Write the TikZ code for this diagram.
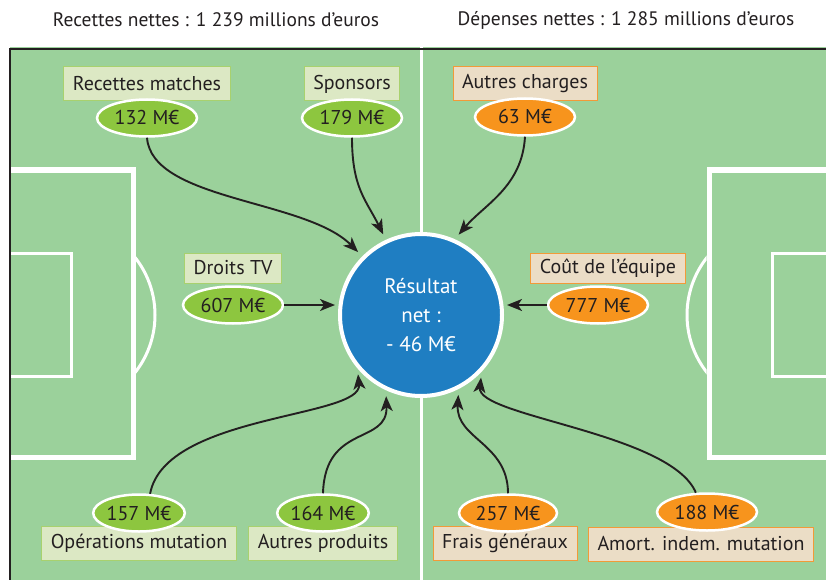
\documentclass[tikz,border=0pt]{standalone}
\usepackage{fontspec}
\setmainfont{PT Sans}
\usetikzlibrary{arrows.meta,shapes.geometric}
\definecolor{pelouse}{HTML}{9BD19B}
\definecolor{bleu}{HTML}{1F7EC2}
\definecolor{vert}{HTML}{8DC63F}
\definecolor{orangeE}{HTML}{F7941D}
\definecolor{vertclair}{HTML}{DCE8C4}
\definecolor{vertbord}{HTML}{A8D16E}
\definecolor{beige}{HTML}{EBDDC6}
\definecolor{orangebord}{HTML}{F29A38}
\definecolor{encre}{HTML}{231F20}

\begin{document}
\begin{tikzpicture}[x=1pt,y=-1pt,
  every node/.style={font=\fontsize{20}{23}\selectfont, text=encre},
  recette/.style={draw=vertbord, fill=vertclair, line width=1pt, minimum height=34pt, inner xsep=9pt},
  depense/.style={recette, draw=orangebord, fill=beige},
  montant/.style={ellipse, draw=white, line width=2.5pt, fill=vert, minimum width=100pt, minimum height=37pt, inner sep=0pt},
  montantd/.style={montant, fill=orangeE},
  flux/.style={draw=encre, line width=1.9pt, -{Stealth[length=15pt,width=12pt,inset=4pt]}, shorten >=6pt},
  ligne/.style={draw=white, line width=3pt}]

\useasboundingbox (0,0) rectangle (826,580);
\fill[white] (0,0) rectangle (826,580);

% terrain
\fill[pelouse] (10,47) rectangle (826,580);
\draw[ligne, line width=5pt] (8,170) -- (133,170) -- (133,457) -- (8,457);
\draw[ligne] (8,253) -- (71,253) -- (71,376) -- (8,376);
\begin{scope}
\clip (135.5,0) rectangle (300,580);
\draw[ligne] (62,315) circle (93pt);
\end{scope}
\draw[ligne, line width=5pt] (826,170) -- (709,170) -- (709,457) -- (826,457);
\draw[ligne] (826,253) -- (772,253) -- (772,376) -- (826,376);
\begin{scope}
\clip (500,0) rectangle (706.5,580);
\draw[ligne] (780,315) circle (93pt);
\end{scope}
\draw[ligne] (421,47) -- (421,580);
\draw[encre, line width=2pt] (10,580) -- (10,49) -- (826,49);

% titres
\node[font=\fontsize{19.5}{22}\selectfont] (titrerec) at (216,20) {Recettes nettes : 1 239 millions d’euros};
\node[font=\fontsize{19.5}{22}\selectfont] (titredep) at (626,20) {Dépenses nettes : 1 285 millions d’euros};

% recettes
\node[recette] (rm) at (147,84) {Recettes matches};
\node[recette] (sp) at (352,84) {Sponsors};
\node[recette, minimum height=30pt] (dtv) at (233,268) {Droits TV};
\node[recette] (om) at (139,543) {Opérations mutation};
\node[recette] (ap) at (323,543) {Autres produits};

\node[montant] (e132) at (147,118) {132 M€};
\node[montant] (e179) at (352,118) {179 M€};
\node[montant] (e607) at (233,305) {607 M€};
\node[montant, minimum width=88pt] (e157) at (139,513) {157 M€};
\node[montant, minimum width=88pt] (e164) at (323,513) {164 M€};

% depenses
\node[depense] (ac) at (525,84) {Autres charges};
\node[depense, minimum height=30pt] (cde) at (608,268) {Coût de l’équipe};
\node[depense] (fg) at (505,543) {Frais généraux};
\node[depense] (aim) at (701,544) {Amort. indem. mutation};

\node[montantd] (e63) at (525,117) {63 M€};
\node[montantd] (e777) at (598,305) {777 M€};
\node[montantd, minimum width=98pt] (e257) at (508,513) {257 M€};
\node[montantd] (e188) at (707,512) {188 M€};

% resultat
\node[circle, fill=bleu, draw=white, line width=4pt, minimum size=162pt, text=white, align=center, font=\fontsize{21}{29}\selectfont] (res) at (421,315) {Résultat\\net :\\- 46 M€};

\draw[flux] (e132.south) .. controls +(5,63) and +(-57,-57) .. (res.135);
\draw[flux] (e179.south) .. controls +(0,50) and +(-20,-40) .. (res.115);
\draw[flux] (e63.south) .. controls +(-3,50) and +(30,-35) .. (res.66);
\draw[flux, shorten >=3pt] (e607.east) -- (e607.east -| res.west);
\draw[flux, shorten >=3pt] (e777.west) -- (e777.west -| res.east);
\draw[flux] (e157.60) .. controls +(15,-80) and +(5,50) .. (res.220);
\draw[flux] (e164.north) .. controls +(2,-70) and +(2,55) .. (res.245);
\draw[flux] (e257.north) .. controls +(0,-50) and +(-3,50) .. (res.297);
\draw[flux] (e188.120) .. controls +(-25,-60) and +(-5,45) .. (res.317);

\end{tikzpicture}
\end{document}
